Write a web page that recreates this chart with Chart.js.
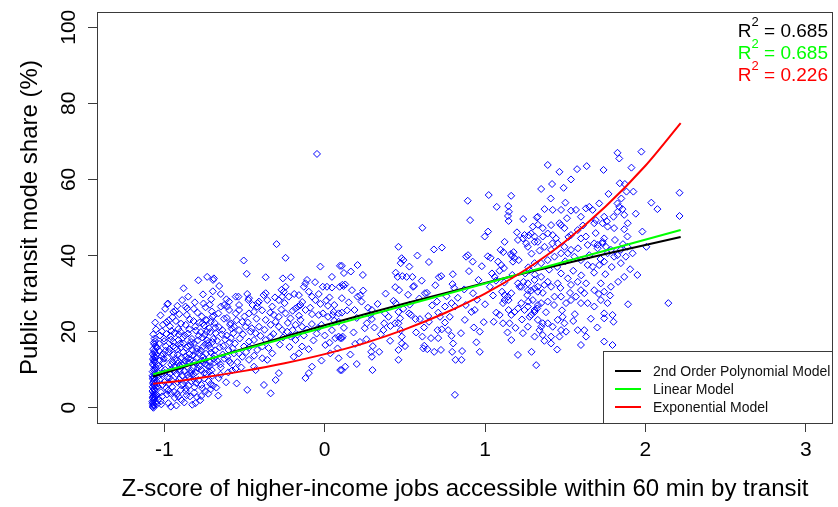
<!DOCTYPE html>
<html>
<head>
<meta charset="utf-8">
<script src="https://cdn.jsdelivr.net/npm/chart.js@4/dist/chart.umd.min.js"></script>
<style>
  html, body { margin: 0; padding: 0; background: #ffffff; }
  #wrap { width: 838px; height: 507px; }
</style>
</head>
<body>
<div id="wrap"><canvas id="chart" width="838" height="507"></canvas></div>
<script>
// Observations: [z-score of higher-income jobs reachable in 60 min, transit mode share %]
const observations = [
  [-1.072,0.2],[-1.068,0.9],[-1.075,1.6],[-1.063,2.3],[-1.07,3.0],[-1.058,3.7],[-1.074,4.4],[-1.066,5.1],[-1.06,5.8],[-1.071,6.5],
  [-1.064,7.2],[-1.069,8.0],[-1.056,8.7],[-1.073,9.5],[-1.062,10.3],[-1.067,11.1],[-1.058,11.9],[-1.071,12.8],[-1.065,13.6],[-1.06,14.5],
  [-1.07,15.4],[-1.055,16.2],[-1.066,17.1],[-1.061,18.2],[-1.069,19.3],[-1.052,20.6],[-1.074,1.2],[-1.059,2.7],[-1.067,4.0],[-1.053,5.4],
  [-1.072,7.6],[-1.057,9.1],[-1.063,12.2],[-1.05,13.9],[-1.071,0.5],[-1.048,3.3],[-1.066,6.1],[-1.054,10.7],[-1.046,15.8],[-1.069,2.0],
  [-1.05,7.0],[-1.045,1.0],[-1.062,16.7],[-1.057,22.4],
  [-1.068,0.0],[-1.064,0.6],[-1.061,1.4],[-1.073,2.6],[-1.056,3.1],[-1.068,3.5],[-1.062,4.7],[-1.073,5.5],[-1.057,6.4],[-1.067,6.8],
  [-1.061,7.8],[-1.074,8.4],[-1.064,9.8],[-1.058,10.0],[-1.072,11.5],[-1.065,12.5],[-1.059,13.2],[-1.072,14.1],[-1.064,14.9],[-1.058,17.5],
  [-1.035,2.3],[-1.021,4.1],[-1.012,6.0],[-1.03,7.4],[-0.998,9.2],[-1.026,10.5],[-1.007,11.9],[-1.017,13.6],[-0.992,15.0],[-1.033,16.8],
  [-1.003,18.2],[-1.015,20.1],[-0.986,22.5],[-1.024,24.3],[-0.995,26.0],[-1.009,14.2],[-1.038,8.3],[-0.989,5.2],[-1.028,12.4],[-1.001,17.5],
  [-1.019,0.9],[-0.984,3.5],
  [-0.975,1.2],[-0.962,3.8],[-0.951,5.5],[-0.968,7.9],[-0.94,9.6],[-0.957,11.3],[-0.934,12.8],[-0.972,14.7],[-0.946,16.1],[-0.958,17.9],
  [-0.937,19.6],[-0.965,21.4],[-0.949,23.8],[-0.931,25.5],[-0.978,27.4],[-0.953,10.2],[-0.969,6.4],[-0.942,13.9],[-0.961,18.8],[-0.935,2.6],
  [-0.925,0.6],[-0.911,2.9],[-0.898,4.7],[-0.919,6.8],[-0.887,8.5],[-0.905,10.1],[-0.916,11.7],[-0.893,13.2],[-0.922,15.3],[-0.901,16.9],
  [-0.884,18.4],[-0.913,20.7],[-0.896,22.1],[-0.907,24.6],[-0.889,28.3],[-0.903,9.4],[-0.918,12.5],[-0.882,14.6],[-0.91,19.2],[-0.894,5.9],
  [-0.876,1.4],[-0.861,3.3],[-0.849,5.8],[-0.869,7.2],[-0.838,9.0],[-0.857,10.8],[-0.872,12.3],[-0.844,14.1],[-0.864,15.8],[-0.833,17.3],
  [-0.853,19.5],[-0.867,21.8],[-0.841,23.2],[-0.858,26.1],[-0.846,8.1],[-0.874,11.6],[-0.836,16.5],[-0.851,13.0],[-0.866,4.4],
  [-0.826,0.8],[-0.813,4.0],[-0.801,6.5],[-0.82,8.8],[-0.791,10.4],[-0.808,12.0],[-0.823,13.7],[-0.796,15.5],[-0.815,17.0],[-0.785,18.9],
  [-0.804,20.3],[-0.818,22.8],[-0.793,25.0],[-0.81,27.7],[-0.788,33.5],[-0.829,9.7],[-0.799,14.8],[-0.783,11.2],[-0.817,7.5],[-0.806,1.2],
  [-0.776,2.0],[-0.762,5.1],[-0.751,7.7],[-0.769,9.9],[-0.741,11.5],[-0.757,13.3],[-0.772,15.1],[-0.745,16.7],[-0.764,18.5],[-0.736,20.0],
  [-0.753,21.6],[-0.767,24.0],[-0.743,26.4],[-0.759,29.8],[-0.748,12.6],[-0.733,17.7],[-0.77,3.1],[-0.738,8.9],
  [-0.726,3.7],[-0.712,6.2],[-0.701,8.4],[-0.719,10.9],[-0.691,12.9],[-0.708,14.5],[-0.723,16.4],[-0.695,18.1],[-0.714,19.9],[-0.686,22.3],
  [-0.704,25.3],[-0.717,27.1],[-0.698,30.6],[-0.689,13.8],[-0.721,9.5],[-0.683,21.0],[-0.71,4.9],
  [-0.676,5.3],[-0.661,7.8],[-0.648,10.6],[-0.668,12.2],[-0.636,14.0],[-0.654,15.9],[-0.671,17.6],[-0.642,19.3],[-0.659,21.2],[-0.628,23.4],
  [-0.651,11.4],[-0.633,16.2],[-0.664,3.2],
  [-0.615,6.7],[-0.601,9.3],[-0.588,11.8],[-0.607,13.4],[-0.574,15.6],[-0.594,17.2],[-0.611,19.0],[-0.58,20.8],[-0.597,12.3],[-0.566,14.3],
  [-0.585,18.3],[-0.556,10.2],
  [-1.041,5.6],[-1.036,11.0],[-1.031,14.9],[-1.027,19.0],[-1.022,1.7],[-1.018,8.9],[-1.013,3.0],[-1.009,21.8],[-1.004,12.9],[-0.999,6.8],
  [-0.995,10.0],[-0.991,16.2],[-0.987,19.4],[-0.983,8.0],[-0.979,13.1],[-0.976,4.6],[-0.972,23.0],[-0.968,15.4],[-0.964,9.0],[-0.96,0.3],
  [-0.956,20.2],[-0.952,7.1],[-0.948,12.0],[-0.944,17.3],[-0.94,4.2],[-0.936,10.9],[-0.932,15.8],[-0.928,22.8],[-0.924,8.9],[-0.92,3.6],
  [-0.916,13.9],[-0.912,17.8],[-0.908,7.4],[-0.904,11.0],[-0.9,20.0],[-0.896,15.9],[-0.892,2.0],[-0.888,11.3],[-0.884,6.3],[-0.88,16.9],
  [-0.876,9.6],[-0.872,19.0],[-0.868,13.5],[-0.864,5.1],[-0.86,24.4],[-0.856,8.7],[-0.852,16.2],[-0.848,11.9],[-0.844,20.6],[-0.84,3.0],
  [-0.836,12.7],[-0.832,7.0],[-0.828,18.1],[-0.824,15.1],[-0.82,10.5],[-0.816,26.0],[-0.812,5.4],[-0.808,21.3],[-0.804,9.3],[-0.8,13.0],
  [-0.796,2.8],[-0.792,17.7],[-0.788,7.3],[-0.784,14.4],[-0.78,22.4],[-0.776,10.9],[-0.772,19.9],[-0.768,6.0],[-0.764,12.4],[-0.76,16.0],
  [-0.756,27.4],[-0.752,9.1],[-0.748,19.2],[-0.744,4.3],[-0.74,14.2],[-0.736,23.0],[-0.732,11.1],[-0.728,17.0],[-0.724,7.0],[-0.72,20.9],
  [-0.716,12.0],[-0.712,15.6],[-0.708,28.5],[-0.704,9.9],[-0.7,17.3],[-0.696,5.8],[-0.692,24.2],[-0.688,11.9],[-0.684,15.1],[-0.68,19.6],
  [-0.733,34.4],[-0.691,34.0],[-0.696,33.6],[-0.658,32.0],[-0.88,31.4],[-0.851,29.2],[-0.981,27.2],[-0.919,26.8],[-0.868,26.6],[-0.944,25.2],
  [-0.648,29.9],[-0.596,27.9],[-0.607,26.6],[-0.627,27.0],[-0.538,29.2],[-0.476,28.3],[-0.441,25.2],[-0.368,34.3],[-0.381,29.6],[-0.368,30.1],
  [-0.358,28.3],[-0.41,27.9],[-0.418,27.5],[-0.261,34.0],[-0.211,34.3],[-0.244,31.8],[-0.255,30.5],[-0.269,31.0],[-0.11,33.6],[-0.12,32.7],
  [-0.166,26.6],[-0.151,27.0],[-0.037,29.9],[-0.058,28.3],[-0.027,27.3],[-0.012,31.8],[0.014,31.8],[0.045,31.6],[0.093,31.8],[0.118,32.0],
  [0.045,34.4],[0.095,37.3],[-0.079,24.6],[-0.037,24.4],[-0.011,24.8],[0.021,23.9],[0.05,24.4],[0.056,25.2],[0.107,25.0],[0.087,22.6],
  [0.045,20.4],[0.066,18.3],[0.097,18.3],[0.112,18.7],[0.004,16.5],[0.035,14.3],[0.087,13.0],[0.107,9.9],[-0.079,10.8],[-0.099,9.1],
  [-0.12,7.8],[-0.193,13.4],[-0.161,14.3],[-0.141,16.1],[-0.182,17.8],[-0.213,18.7],[-0.234,20.0],[-0.265,20.4],[-0.286,21.3],[-0.306,22.6],
  [-0.286,9.1],[-0.306,7.3],[-0.379,6.0],[-0.337,3.8],[-0.483,4.7],[-0.549,6.4],[-0.431,9.9],[-0.441,10.8],[-0.472,12.6],[-0.514,13.4],
  [-0.534,14.3],[-0.503,16.1],[-0.472,17.4],[-0.441,17.8],[-0.421,15.2],[-0.389,16.1],[-0.368,17.8],[-0.337,18.7],[-0.327,14.3],[-0.358,12.6],
  [-0.389,13.0],[-0.586,22.2],[-0.565,21.3],[-0.534,20.4],[-0.514,22.6],[-0.493,21.3],[-0.462,20.0],[-0.431,19.6],[-0.41,21.3],[-0.368,23.1],
  [-0.337,21.8],[-0.317,24.4],[-0.286,23.9],[-0.244,24.8],[-0.213,23.5],[-0.182,21.8],[-0.151,23.1],[-0.141,21.3],[-0.555,24.8],[-0.534,25.7],
  [-0.472,24.8],[-0.421,26.6],[-0.327,26.6],[-0.286,28.3],[-0.265,29.2],[-0.224,29.2],[-0.161,29.6],[-0.12,25.7],[-0.182,26.1],[-0.13,31.8],
  [-0.099,30.5],[-0.079,29.2],[-0.483,29.9],[-0.472,28.8],[-0.534,27.0],[-0.555,29.2],[-0.613,28.5],[-0.596,25.7],[-0.648,26.6],[-0.663,24.8],
  [-0.7,23.9],[-0.71,22.6],[-0.741,23.1],[-0.762,22.2],
  [-0.65,8.7],[-0.638,20.4],[-0.625,12.9],[-0.62,17.9],[-0.61,23.6],[-0.6,15.2],[-0.59,21.8],[-0.578,9.8],[-0.57,19.6],[-0.56,16.9],
  [-0.55,23.0],[-0.545,12.0],[-0.53,18.2],[-0.52,10.6],[-0.51,19.3],[-0.5,24.0],[-0.49,14.6],[-0.48,22.4],[-0.47,15.9],[-0.455,20.9],
  [-0.45,27.0],[-0.44,13.7],[-0.425,23.4],[-0.4,18.9],[-0.39,25.6],[-0.375,20.5],[-0.35,15.7],[-0.34,25.0],[-0.32,19.4],[-0.31,29.0],
  [-0.28,16.6],[-0.27,25.8],[-0.26,18.5],[-0.23,22.3],[-0.22,16.0],[-0.2,20.4],[-0.19,29.9],[-0.17,19.2],[-0.16,24.2],[-0.14,27.8],
  [-0.11,20.6],[-0.1,15.4],[-0.09,26.3],[-0.07,17.7],[-0.06,33.0],[-0.04,21.0],[-0.02,12.4],[0.0,19.0],[0.01,28.2],[0.03,17.1],
  [-0.048,66.7],[-0.30,43.0],[-0.244,39.4],[-0.505,38.7],[-0.486,35.2],[-0.027,37.1],
  [1.023,55.9],[1.163,55.7],[0.892,54.4],[1.073,52.8],[1.145,53.0],[1.149,51.5],[1.143,50.4],[1.147,49.1],[0.907,49.3],[1.238,49.6],
  [1.323,50.0],[0.609,47.3],[1.298,47.6],[0.998,45.0],[1.019,46.3],[1.199,46.1],[1.246,45.4],[1.273,45.3],[1.205,44.1],[1.236,44.5],
  [1.257,43.2],[1.309,43.6],[0.46,42.3],[0.681,41.6],[0.731,42.1],[0.578,40.0],[0.48,39.3],[0.491,38.8],[0.474,38.0],[0.65,38.3],
  [0.528,37.1],[0.894,40.1],[0.882,39.7],[0.923,38.4],[1.017,39.8],[1.035,39.4],[1.097,41.5],[1.114,40.9],[1.122,43.6],[1.161,40.4],
  [1.168,39.9],[1.178,40.9],[1.184,39.3],[1.174,38.4],[1.081,38.4],[1.101,37.5],[1.118,36.7],[0.107,37.3],[0.163,35.8],[0.205,37.5],
  [0.238,34.9],[0.443,35.5],[0.455,34.4],[0.484,34.6],[0.511,34.4],[0.547,34.4],[0.605,33.4],[0.551,31.8],[0.712,34.3],[0.727,34.6],
  [0.799,35.1],[0.959,33.6],[1.043,35.3],[1.06,34.4],[1.068,33.4],[0.11,32.3],[0.128,32.4],[0.222,29.5],[0.205,29.2],[0.107,28.8],
  [0.464,30.9],[0.52,29.7],[0.557,32.0],[0.625,30.1],[0.638,30.2],[0.797,32.5],[0.807,31.5],[0.87,31.1],[0.925,30.1],[1.106,30.5],
  [1.122,29.6],[1.143,29.2],[1.147,28.3],[1.164,30.1],[1.05,29.5],[1.205,32.7],[1.215,31.8],[1.226,31.8],[1.24,33.1],[1.267,30.9],
  [1.288,30.8],[1.309,31.4],[1.329,31.8],[1.263,29.6],[1.298,28.3],[0.087,24.8],[0.186,25.7],[0.294,25.7],[0.284,24.4],[0.294,23.3],
  [0.263,22.2],[0.377,24.8],[0.398,23.9],[0.429,28.1],[0.443,27.5],[0.46,25.2],[0.47,23.5],[0.46,22.2],[0.371,22.2],[0.526,24.8],
  [0.538,24.4],[0.567,23.3],[0.594,23.3],[0.646,24.1],[0.65,22.6],[0.7,27.9],[0.708,25.0],[0.719,23.9],[0.75,26.6],[0.791,27.5],
  [0.812,26.6],[0.874,23.1],[0.915,25.2],[0.936,25.7],[0.992,22.5],[1.054,22.6],[1.112,27.5],[1.122,28.3],[1.164,24.4],[1.184,25.2],
  [1.147,25.7],[1.153,22.2],[1.205,26.1],[1.226,27.5],[1.246,25.7],[1.278,23.9],[1.309,25.2],[1.325,26.1],[0.087,18.7],[0.107,18.3],
  [0.366,20.4],[0.439,22.2],[0.474,20.4],[0.481,18.7],[0.46,15.2],[0.481,16.9],[0.501,16.2],[0.408,17.6],[0.29,14.7],[0.294,13.4],
  [0.298,9.9],[0.34,14.7],[0.46,12.6],[0.609,18.7],[0.615,15.6],[0.621,16.3],[0.64,15.4],[0.663,18.3],[0.683,14.7],[0.704,20.4],
  [0.708,18.3],[0.725,15.2],[0.75,22.4],[0.77,20.4],[0.791,18.9],[0.801,16.9],[0.795,14.7],[0.857,14.9],[0.853,12.6],[0.816,12.6],
  [0.812,3.4],[0.946,17.2],[0.967,14.7],[0.967,20.0],[1.091,24.4],[1.112,22.2],[1.164,17.8],[1.205,13.9],[1.236,19.6],[1.309,18.7],
  [1.319,11.2],[0.097,9.9],[0.128,10.8],
  [-0.05,19.5],[-0.02,21.8],[0.02,26.8],[0.06,22.9],[0.12,21.0],[0.15,27.7],[0.18,19.8],[0.2,23.6],[0.22,17.3],[0.25,20.9],
  [0.27,26.3],[0.3,16.2],[0.16,14.0],[0.2,11.5],[0.24,30.8],[0.12,35.4],[0.03,29.0],[-0.08,22.0],[-0.13,19.0],[-0.2,25.5],[-0.25,27.5],
  [0.06,27.0],[0.08,15.6],[0.14,25.6],[0.17,30.9],[0.19,16.8],[0.23,27.9],[0.26,18.0],[0.31,21.1],[0.33,27.3],[0.35,19.3],
  [0.38,30.0],[0.41,21.5],[0.44,31.7],[0.49,26.0],[0.53,27.1],[0.57,19.8],[0.59,28.7],[0.62,21.1],[0.67,26.9],[0.69,32.2],
  [0.73,20.6],[0.76,29.3],[0.78,23.9],[0.83,28.9],[0.85,19.6],[0.88,27.0],[0.9,35.9],[0.93,21.1],[0.95,28.4],[0.98,37.2],
  [1.826,67.0],[1.837,65.5],[1.975,67.3],[1.391,63.8],[1.464,62.0],[1.536,60.0],[1.574,62.7],[1.634,63.5],[1.739,62.5],[1.913,63.1],
  [1.35,57.5],[1.418,58.8],[1.84,59.0],[1.872,58.8],[1.925,56.8],[1.882,56.8],[1.77,56.2],[1.826,53.7],[1.837,52.8],[1.857,52.2],
  [2.037,53.9],[2.075,52.2],[2.213,56.5],[2.213,50.4],[1.981,46.3],[2.006,42.3],[1.888,45.0],[1.95,34.9],[1.868,34.4],[1.905,36.4],
  [1.892,27.2],[2.143,27.5],
  [1.501,53.9],[1.474,52.0],[1.422,52.0],[1.371,52.2],[1.329,50.2],[1.36,47.2],[1.412,48.0],[1.464,48.5],[1.511,49.8],[1.536,51.8],
  [1.567,52.0],[1.598,50.2],[1.629,52.4],[1.65,52.8],[1.671,52.0],[1.712,53.7],[1.691,49.3],[1.743,50.2],[1.681,48.5],[1.733,48.5],
  [1.801,50.2],[1.826,51.5],[1.868,50.7],[1.805,47.2],[1.868,46.9],[1.764,47.6],[1.743,44.5],[1.733,43.2],[1.702,42.8],
  [1.288,45.8],[1.309,45.0],[1.329,43.6],[1.267,42.3],[1.36,45.0],[1.391,45.8],[1.422,45.4],[1.443,44.5],[1.474,48.0],[1.495,47.2],
  [1.536,45.4],[1.578,46.7],[1.598,44.5],[1.629,45.0],[1.64,42.8],[1.681,43.2],[1.702,41.9],[1.733,43.6],[1.754,42.3],[1.764,40.6],
  [1.785,41.5],[1.805,39.7],[1.826,40.1],[1.847,41.5],[1.888,42.3],[1.878,39.7],[1.847,38.0],[1.743,38.4],[1.712,37.5],[1.671,37.1],
  [1.64,37.5],[1.598,38.8],[1.557,39.7],[1.516,40.6],[1.474,40.6],[1.433,39.7],[1.391,38.8],[1.35,38.0],[1.309,38.0],[1.278,36.2],
  [1.371,42.3],[1.412,41.5],[1.453,43.2],[1.495,42.3],[1.536,41.5],
  [1.267,32.7],[1.309,33.6],[1.35,34.4],[1.391,33.1],[1.329,30.5],[1.36,30.2],[1.412,31.8],[1.453,32.7],[1.474,35.3],[1.516,34.0],
  [1.536,32.3],[1.578,33.1],[1.598,30.9],[1.567,29.2],[1.619,30.1],[1.681,30.9],[1.722,32.7],[1.743,30.5],[1.785,31.8],[1.722,28.3],
  [1.764,27.5],[1.743,24.8],[1.795,24.4],[1.801,22.6],[1.743,23.5],[1.681,26.6],[1.64,27.5],[1.598,27.5],[1.536,28.3],[1.505,27.5],
  [1.474,29.2],[1.433,29.2],[1.391,27.9],[1.35,27.5],[1.309,25.7],[1.288,24.4],[1.329,23.1],[1.35,21.3],[1.34,20.4],[1.36,22.2],
  [1.391,22.2],[1.422,21.3],[1.453,23.1],[1.484,23.9],[1.495,22.2],[1.474,20.4],[1.505,20.0],[1.464,18.7],[1.412,18.7],[1.36,19.1],
  [1.412,16.9],[1.578,20.4],[1.619,20.4],[1.598,16.5],[1.743,17.4],[1.795,16.5],[1.267,26.6],[1.267,21.3],
  [1.0,27.2],[1.03,31.8],[1.07,25.0],[1.09,36.0],[1.12,32.9],[1.14,19.8],[1.17,34.9],[1.19,21.0],[1.21,38.8],[1.23,23.2],
  [1.25,35.3],[1.27,27.9],[1.29,40.5],[1.31,35.0],[1.33,27.0],[1.34,41.3],[1.37,32.3],[1.38,25.1],[1.4,36.3],[1.42,43.2],
  [1.43,27.0],[1.45,37.0],[1.47,31.5],[1.48,25.6],[1.5,38.5],[1.52,44.9],[1.53,30.2],[1.55,36.0],[1.56,24.6],[1.58,41.9],
  [1.6,34.8],[1.61,47.9],[1.63,32.7],[1.65,40.1],[1.66,23.4],[1.68,35.5],[1.69,45.9],[1.71,29.9],[1.72,39.1],[1.75,35.1],
  [1.76,49.0],[1.78,29.5],[1.79,37.0],[1.81,44.1],[1.83,33.1],[1.85,55.0],[1.86,43.0],[1.89,48.5],[1.92,40.6],[1.94,51.0],
  [1.29,14.7],[1.37,17.6],[1.45,15.3],[1.55,22.8],[1.63,18.7],[1.7,21.1],[1.27,36.9],[1.33,48.1],[1.41,55.0],[1.49,57.8]
];

// Fitted model curves
const polyZ     = [-1.07, -0.75, -0.5, -0.25, 0, 0.25, 0.5, 0.75, 1.0, 1.25, 1.5, 1.75, 2.0, 2.22];
const polyShare = [8.2, 12.4, 15.6, 18.7, 21.7, 24.6, 27.4, 30.1, 32.8, 35.4, 37.9, 40.4, 42.8, 44.9];
const linearZ     = [-1.07, 2.22];
const linearShare = [8.8, 46.7];
const expZ     = [-1.07, -0.9, -0.75, -0.5, -0.25, 0, 0.25, 0.5, 0.75, 1.0, 1.25, 1.5, 1.75, 2.0, 2.22];
const expShare = [6.3, 7.1, 8.0, 9.7, 11.7, 14.1, 17.0, 20.6, 24.9, 30.0, 36.2, 43.7, 52.8, 63.6, 74.8];

const modelNames  = ['2nd Order Polynomial Model', 'Linear Model', 'Exponential Model'];
const modelColors = ['#000000', '#00ff00', '#ff0000'];
const rSquared    = ['0.685', '0.685', '0.226'];

const xTicks = [-1, 0, 1, 2, 3];
const yTicks = [0, 20, 40, 60, 80, 100];

const FONT = '"Liberation Sans", Arial, Helvetica, sans-serif';
const AXIS_GREY = '#3a3a3a';

const toPoints = (xs, ys) => xs.map((x, i) => ({ x, y: ys[i] }));

// Frame, y labels, axis titles, R² notes and the legend box
const decorations = {
  id: 'decorations',
  afterDraw(chart) {
    const { ctx, chartArea: a, scales } = chart;
    ctx.save();

    // plot frame
    ctx.strokeStyle = AXIS_GREY;
    ctx.lineWidth = 1;
    ctx.strokeRect(Math.round(a.left) + 0.5, Math.round(a.top) + 0.5,
                   Math.round(a.right - a.left) - 1, Math.round(a.bottom - a.top));

    // y tick labels, rotated like the axis title
    ctx.fillStyle = '#000';
    ctx.font = '21px ' + FONT;
    ctx.textAlign = 'center';
    ctx.textBaseline = 'alphabetic';
    yTicks.forEach(v => {
      const py = scales.y.getPixelForValue(v);
      ctx.save();
      ctx.translate(75, py);
      ctx.rotate(-Math.PI / 2);
      ctx.fillText(String(v), 0, 0);
      ctx.restore();
    });

    // axis titles
    ctx.font = '24px ' + FONT;
    ctx.fillText('Z-score of higher-income jobs accessible within 60 min by transit', (a.left + a.right) / 2, 496);
    ctx.save();
    ctx.translate(37, (a.top + a.bottom) / 2);
    ctx.rotate(-Math.PI / 2);
    ctx.fillText('Public transit mode share (%)', 0, 0);
    ctx.restore();

    // R² notes, right aligned
    const rightX = 828;
    const baselines = [37, 58.5, 80.5];
    rSquared.forEach((val, i) => {
      ctx.fillStyle = modelColors[i];
      ctx.textAlign = 'right';
      ctx.font = '19px ' + FONT;
      const tail = ' = ' + val;
      ctx.fillText(tail, rightX, baselines[i]);
      const wTail = ctx.measureText(tail).width;
      ctx.font = '13px ' + FONT;
      ctx.fillText('2', rightX - wTail, baselines[i] - 11);
      const wSup = ctx.measureText('2').width;
      ctx.font = '19px ' + FONT;
      ctx.fillText('R', rightX - wTail - wSup, baselines[i]);
    });

    // legend
    const lx = 603, ly = 351, lr = Math.round(a.right), lb = Math.round(a.bottom);
    ctx.fillStyle = '#ffffff';
    ctx.fillRect(lx, ly, lr - lx, lb - ly);
    ctx.strokeStyle = AXIS_GREY;
    ctx.strokeRect(lx + 0.5, ly + 0.5, lr - lx - 1, lb - ly);
    const rows = [371, 389, 407];
    ctx.font = '14px ' + FONT;
    ctx.textAlign = 'left';
    ctx.textBaseline = 'alphabetic';
    modelNames.forEach((name, i) => {
      ctx.strokeStyle = modelColors[i];
      ctx.lineWidth = 2;
      ctx.beginPath();
      ctx.moveTo(615, rows[i]);
      ctx.lineTo(641, rows[i]);
      ctx.stroke();
      ctx.fillStyle = '#111';
      ctx.fillText(name, 653, rows[i] + 5);
    });

    ctx.restore();
  }
};

const tickGrid = {
  display: true,
  drawOnChartArea: false,
  drawTicks: true,
  tickLength: 9,
  tickColor: AXIS_GREY,
  tickWidth: 1
};

new Chart(document.getElementById('chart').getContext('2d'), {
  type: 'scatter',
  data: {
    datasets: [
      {
        label: modelNames[0],
        data: toPoints(polyZ, polyShare),
        showLine: true, borderColor: modelColors[0], borderWidth: 2,
        pointRadius: 0, tension: 0, order: 3
      },
      {
        label: modelNames[1],
        data: toPoints(linearZ, linearShare),
        showLine: true, borderColor: modelColors[1], borderWidth: 2,
        pointRadius: 0, tension: 0, order: 2
      },
      {
        label: modelNames[2],
        data: toPoints(expZ, expShare),
        showLine: true, borderColor: modelColors[2], borderWidth: 2,
        pointRadius: 0, tension: 0.3, order: 1
      },
      {
        label: 'Neighbourhoods',
        data: observations.map(([x, y]) => ({ x, y })),
        pointStyle: 'rectRot',
        pointRadius: 3.5,
        borderColor: '#0000ff',
        borderWidth: 1,
        backgroundColor: 'rgba(0,0,0,0)',
        order: 10
      }
    ]
  },
  options: {
    responsive: false,
    animation: false,
    devicePixelRatio: 1,
    layout: { padding: { top: 12, right: 2, left: 0, bottom: 0 } },
    plugins: { legend: { display: false }, tooltip: { enabled: false } },
    scales: {
      x: {
        type: 'linear',
        min: -1.42, max: 3.17,
        afterBuildTicks: s => { s.ticks = xTicks.map(v => ({ value: v })); },
        afterFit: s => { s.height = 84; },
        grid: tickGrid,
        border: { display: false },
        ticks: { font: { family: FONT, size: 21 }, color: '#000', padding: 6, maxRotation: 0, autoSkip: false }
      },
      y: {
        type: 'linear',
        min: -4, max: 104,
        afterBuildTicks: s => { s.ticks = yTicks.map(v => ({ value: v })); },
        afterFit: s => { s.width = 97; },
        grid: tickGrid,
        border: { display: false },
        ticks: { display: false }
      }
    }
  },
  plugins: [decorations]
});
</script>
</body>
</html>
